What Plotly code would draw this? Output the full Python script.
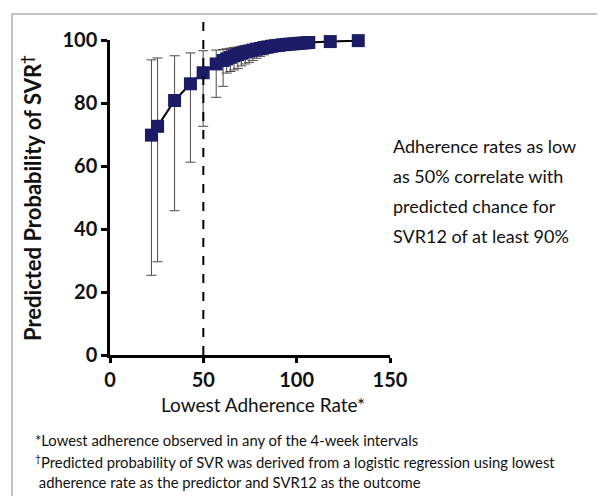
import plotly.graph_objects as go

# ---- data ----
adherence = [22.2, 25.5, 34.6, 43.1, 49.9, 56.9, 60.6, 62.5, 64.5, 66.5, 68.5, 70.5,
             72.5, 74.5, 76.5, 78.5, 80.5, 82.5, 84.5, 86.5, 88.5, 90.5, 92.5, 94.5,
             96.5, 98.5, 100.5, 102.5, 104.5, 106.5, 118, 133]
prob = [69.8, 72.6, 80.8, 86.1, 89.6, 92.4, 93.5, 94.0, 94.5, 95.0, 95.4, 95.8,
        96.2, 96.5, 96.8, 97.1, 97.3, 97.6, 97.8, 98.0, 98.2, 98.3, 98.5, 98.6,
        98.7, 98.8, 98.9, 99.0, 99.1, 99.2, 99.5, 99.8]
lower = [25.3, 29.6, 45.8, 61.2, 72.6, 81.8, 85.3, 89.5, 90.0, 90.5, 91.0, 91.8,
         92.4, 92.9, 93.5, 94.2, 94.8, 95.3, 95.8, 96.2, 96.6, 97.0, 97.3, 97.6,
         97.8, 98.0, 98.2, 98.4, 98.5, 98.6, 99.0, 99.3]
upper = [93.7, 94.3, 95.0, 95.9, 96.6, 96.8, 97.0, 97.2, 97.4, 97.6, 97.8, 98.0,
         98.2, 98.3, 98.4, 98.5, 98.6, 98.7, 98.8, 98.9, 99.0, 99.1, 99.2, 99.3,
         99.4, 99.5, 99.6, 99.7, 99.7, 99.8, 99.9, 99.95]
x_ticks = [0, 50, 100, 150]
y_ticks = [0, 20, 40, 60, 80, 100]
threshold = 50

annotation_lines = ["Adherence rates as low", "as 50% correlate with",
                    "predicted chance for", "SVR12 of at least 90%"]
footnotes = ["*Lowest adherence observed in any of the 4-week intervals",
             "<sup>†</sup>Predicted probability of SVR was derived from a logistic regression using lowest",
             " adherence rate as the predictor and SVR12 as the outcome"]

# ---- layout geometry ----
W, H = 605, 496
L, R, T, B = 102, 223, 32, 149
PW, PH = W - L - R, H - T - B


def px_x(p):
    return (p - L) / PW


def px_y(p):
    return (H - B - p) / PH


err_plus = [u - p for u, p in zip(upper, prob)]
err_minus = [p - lo for p, lo in zip(prob, lower)]

FONT = "Lato"

fig = go.Figure()
fig.add_trace(go.Scatter(
    x=adherence, y=prob, mode="lines+markers",
    line=dict(color="#000000", width=2),
    marker=dict(symbol="square", size=13, color="#1c1c66",
                line=dict(color="#1c1c66", width=0)),
    error_y=dict(type="data", symmetric=False, array=err_plus, arrayminus=err_minus,
                 color="#4a4a4a", thickness=1, width=5),
    cliponaxis=False, showlegend=False,
))

shapes = [
    dict(type="line", xref="x", yref="paper", x0=threshold, x1=threshold,
         y0=0, y1=px_y(6), line=dict(color="#000000", width=2, dash="dash")),
    dict(type="rect", xref="paper", yref="paper", x0=px_x(4), x1=px_x(601),
         y0=px_y(493), y1=px_y(6), line=dict(color="#b0b0b0", width=1.5)),
]

annotations = [
    dict(text="<b>Predicted Probability of SVR<sup>†</sup></b>", textangle=-90,
         xref="paper", yref="paper", x=px_x(23), y=px_y(190),
         xanchor="center", yanchor="middle",
         showarrow=False, font=dict(family=FONT, size=22, color="#111111")),
    dict(text="Lowest Adherence Rate*", xref="paper", yref="paper",
         x=px_x(255), y=px_y(397), xanchor="center", yanchor="middle",
         showarrow=False, font=dict(family=FONT, size=19, color="#111111")),
]
for i, line in enumerate(annotation_lines):
    annotations.append(dict(text=line, xref="paper", yref="paper",
                            x=px_x(383), y=px_y(138 + 30 * i), xanchor="left",
                            yanchor="middle", showarrow=False,
                            font=dict(family=FONT, size=18, color="#111111")))
for i, line in enumerate(footnotes):
    annotations.append(dict(text=line, xref="paper", yref="paper",
                            x=px_x(25), y=px_y(432 + 21 * i), xanchor="left",
                            yanchor="middle", showarrow=False,
                            font=dict(family=FONT, size=14.8, color="#111111")))

fig.update_layout(
    width=W, height=H, margin=dict(l=L, r=R, t=T, b=B),
    paper_bgcolor="white", plot_bgcolor="white",
    shapes=shapes, annotations=annotations,
    xaxis=dict(range=[0, 150], tickvals=x_ticks, showgrid=False, zeroline=False,
               showline=True, linecolor="#000000", linewidth=2.5,
               ticks="outside", ticklen=5, tickwidth=2.5, tickcolor="#000000",
               tickfont=dict(family=FONT, size=20, color="#111111", weight="bold")),
    yaxis=dict(range=[0, 100], tickvals=y_ticks, showgrid=False, zeroline=False,
               showline=True, linecolor="#000000", linewidth=2.5,
               ticks="outside", ticklen=6, tickwidth=2.5, tickcolor="#000000",
               tickfont=dict(family=FONT, size=20, color="#111111", weight="bold")),
)

fig.write_html("out.html")
